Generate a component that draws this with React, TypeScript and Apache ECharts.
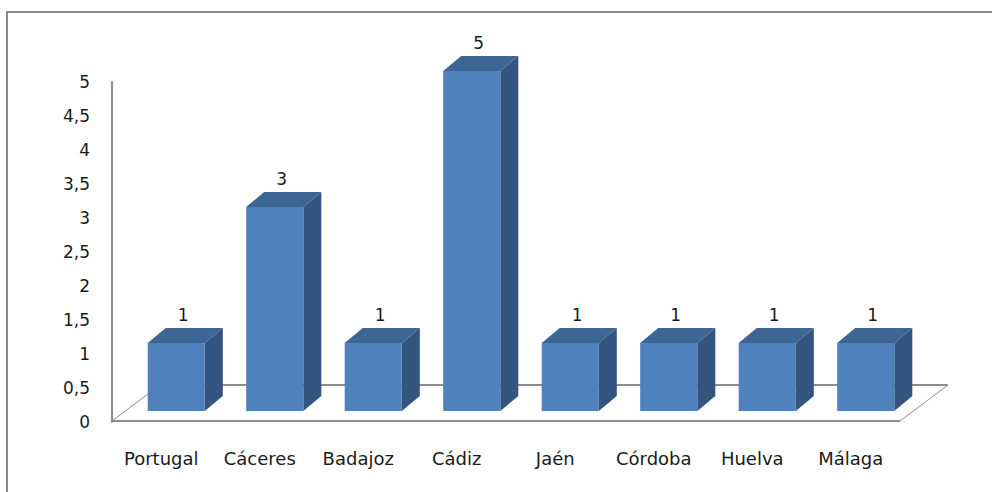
import React, { useEffect, useRef } from "react";
import * as echarts from "echarts";

const categories = ["Portugal", "Cáceres", "Badajoz", "Cádiz", "Jaén", "Córdoba", "Huelva", "Málaga"];
const values = [1, 3, 1, 5, 1, 1, 1, 1];
const yMin = 0;
const yMax = 5;
const yStep = 0.5;

const FONT = "'DejaVu Sans', sans-serif";
const FRONT = "#4F81BD";
const TOP = "#3D6695";
const SIDE = "#33557F";
const AXIS_GRAY = "#8C8C8C";

// 3D projection offsets (pixels)
const FLOOR_DX = 48;
const FLOOR_DY = -36;
const BAR_SHIFT_X = 15;
const BAR_SHIFT_Y = -11;
const BAR_DX = 18;
const BAR_DY = -15;
const BAR_RATIO = 0.58;

export default function App() {
  const ref = useRef<HTMLDivElement>(null);

  useEffect(() => {
    if (!ref.current) return;
    const chart = echarts.init(ref.current, undefined, { renderer: "svg" });

    const option: any = {
      animation: false,
      backgroundColor: "#ffffff",
      grid: { left: 112, right: 92, top: 82, bottom: 70, containLabel: false },
      xAxis: {
        type: "category",
        data: categories,
        boundaryGap: true,
        axisLine: { show: false },
        axisTick: { show: false },
        splitLine: { show: false },
        axisLabel: { margin: 27, color: "#1a1a1a", fontSize: 18, fontFamily: FONT },
      },
      yAxis: {
        type: "value",
        min: yMin,
        max: yMax,
        interval: yStep,
        axisLine: { show: true, lineStyle: { color: AXIS_GRAY, width: 2 } },
        axisTick: { show: false },
        splitLine: { show: false },
        axisLabel: {
          margin: 22,
          color: "#1a1a1a",
          fontSize: 17,
          fontFamily: FONT,
          formatter: (v: number) => String(v).replace(".", ","),
        },
      },
      graphic: [
        {
          type: "polyline",
          silent: true,
          shape: { points: [[7, 492], [7, 12], [992, 12]] },
          style: { stroke: "#8a8a8a", lineWidth: 2, fill: "none" },
        },
      ],
      series: [
        {
          type: "custom",
          z: 1,
          data: [[0, 0]],
          renderItem: (params: any) => {
            const cs = params.coordSys;
            const x0 = cs.x;
            const x1 = cs.x + cs.width;
            const y0 = cs.y + cs.height - 1;
            return {
              type: "group",
              children: [
                {
                  type: "line",
                  shape: { x1: x0 + FLOOR_DX, y1: y0 + FLOOR_DY, x2: x1 + FLOOR_DX, y2: y0 + FLOOR_DY },
                  style: { stroke: AXIS_GRAY, lineWidth: 2 },
                },
                {
                  type: "line",
                  shape: { x1: x0, y1: y0, x2: x0 + FLOOR_DX, y2: y0 + FLOOR_DY },
                  style: { stroke: AXIS_GRAY, lineWidth: 1 },
                },
                {
                  type: "line",
                  shape: { x1: x1, y1: y0, x2: x1 + FLOOR_DX, y2: y0 + FLOOR_DY },
                  style: { stroke: AXIS_GRAY, lineWidth: 1 },
                },
                {
                  type: "line",
                  shape: { x1: x0, y1: y0, x2: x1, y2: y0 },
                  style: { stroke: AXIS_GRAY, lineWidth: 2 },
                },
              ],
            };
          },
        },
        {
          type: "custom",
          z: 2,
          data: values.map((v, i) => [i, v]),
          renderItem: (params: any, api: any) => {
            const cat = api.value(0);
            const v = api.value(1);
            const base = api.coord([cat, 0]);
            const top = api.coord([cat, v]);
            const bw = api.size([1, 0])[0] * BAR_RATIO;
            const cx = base[0] + BAR_SHIFT_X;
            const l = cx - bw / 2;
            const r = cx + bw / 2;
            const b = base[1] + BAR_SHIFT_Y;
            const t = top[1] + BAR_SHIFT_Y;
            return {
              type: "group",
              children: [
                {
                  type: "polygon",
                  shape: { points: [[r, b], [r + BAR_DX, b + BAR_DY], [r + BAR_DX, t + BAR_DY], [r, t]] },
                  style: { fill: SIDE },
                },
                {
                  type: "polygon",
                  shape: { points: [[l, t], [r, t], [r + BAR_DX, t + BAR_DY], [l + BAR_DX, t + BAR_DY]] },
                  style: { fill: TOP },
                },
                {
                  type: "rect",
                  shape: { x: l, y: t, width: bw, height: b - t },
                  style: { fill: FRONT },
                },
                {
                  type: "text",
                  x: cx + BAR_DX / 2 - 2,
                  y: t + BAR_DY - 13,
                  style: {
                    text: String(v),
                    fill: "#1a1a1a",
                    fontSize: 17,
                    fontFamily: FONT,
                    align: "center",
                    verticalAlign: "middle",
                  },
                },
              ],
            };
          },
        },
      ],
    };

    chart.setOption(option);
    return () => chart.dispose();
  }, []);

  return (
    <div
      ref={ref}
      style={{ position: "absolute", left: 0, top: 0, width: 992, height: 492, background: "#fff" }}
    />
  );
}
